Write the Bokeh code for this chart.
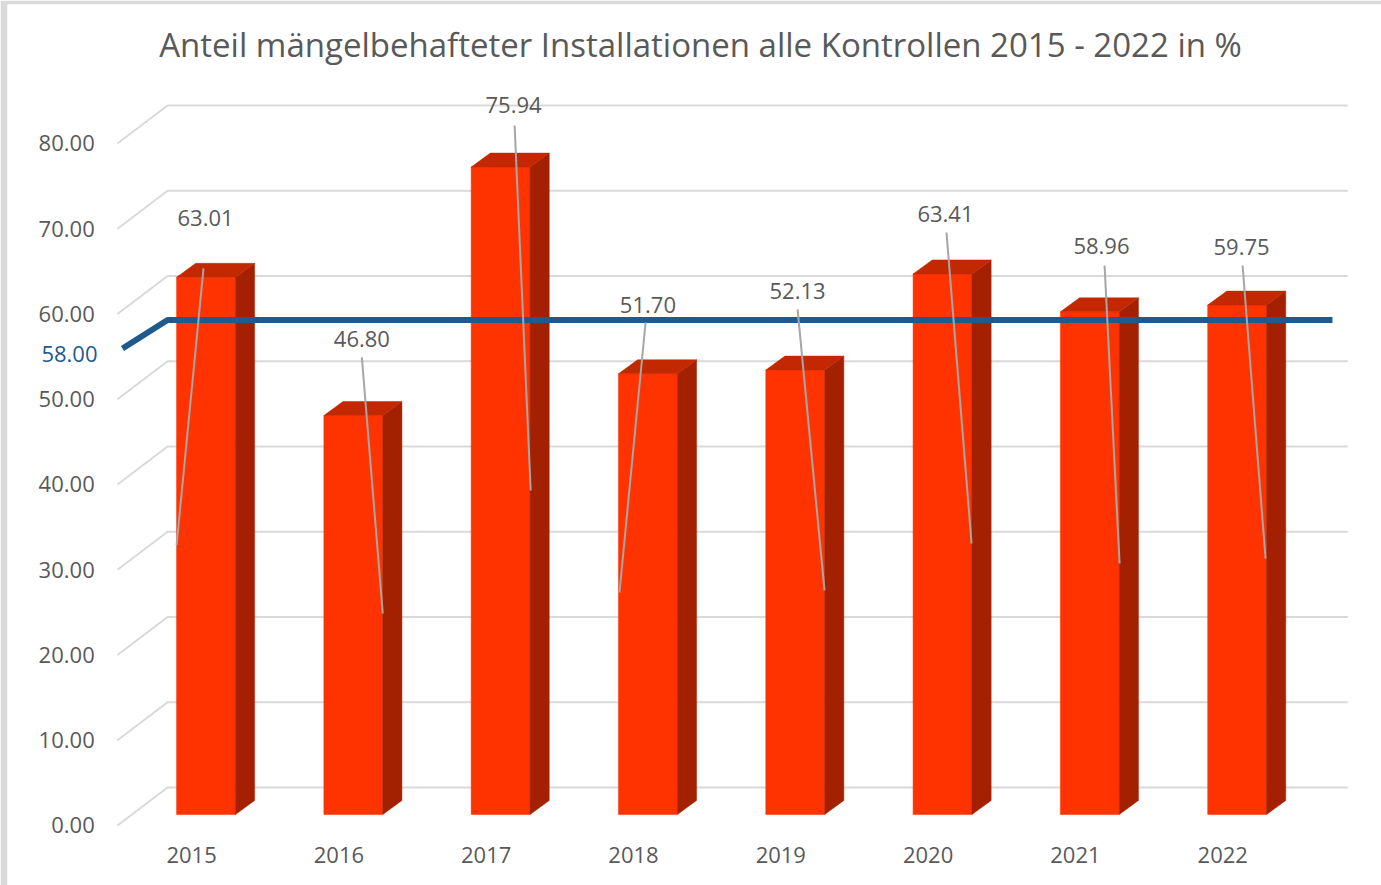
from bokeh.plotting import figure
from bokeh.models import Range1d
from bokeh.embed import file_html
from bokeh.resources import INLINE

# ---------------- data ----------------
years = ["2015", "2016", "2017", "2018", "2019", "2020", "2021", "2022"]
shares = [63.01, 46.80, 75.94, 51.70, 52.13, 63.41, 58.96, 59.75]
target = 58.00
y_ticks = [0, 10, 20, 30, 40, 50, 60, 70, 80]
title_text = "Anteil mängelbehafteter Installationen alle Kontrollen 2015 - 2022 in %"

# ---------------- placement (axis units) ----------------
label_x = [-0.003, 1.058, 2.088, 3.000, 4.016, 5.020, 6.079, 7.030]
label_y = [69.91, 55.72, 83.17, 59.71, 61.35, 70.38, 66.63, 66.51]
leader_x0 = [-0.017, 1.058, 2.095, 2.984, 4.016, 5.027, 6.100, 7.037]
leader_y0 = [64.05, 53.61, 80.82, 57.71, 59.24, 68.27, 64.40, 64.40]
leader_x1 = [-0.200, 1.200, 2.204, 2.807, 4.199, 5.197, 6.202, 7.193]
leader_y1 = [31.55, 23.58, 38.00, 26.04, 26.28, 31.79, 29.44, 30.03]

HALF = 0.2        # half width of bar front face
DX = 0.130        # 3D depth, x
DY = 1.64         # 3D depth, y
BACK = 3.17       # back wall offset
FRONT = -1.29     # label plane offset
GRID_X0, GRID_X1, GRID_X2 = -0.601, -0.261, 7.751
YLAB_X = -0.7556  # right edge of value-axis labels
XLAB_DX = -0.098  # category label shift
XLAB_Y = -4.81

FONT = "Open Sans"
GRAY = "#595959"
BLUE = "#1f5a8e"

p = figure(width=1381, height=885,
           x_range=Range1d(-1.3476, 7.980), y_range=Range1d(-8.33, 95.01),
           output_backend="svg", toolbar_location=None,
           x_axis_location=None, y_axis_location=None,
           min_border_left=7, min_border_top=4, min_border_right=0, min_border_bottom=0,
           outline_line_color=None,
           background_fill_color="white", border_fill_color="#dadada")
p.xgrid.visible = False
p.ygrid.visible = False

# value-axis labels (front plane)
p.text([YLAB_X] * len(y_ticks), [t + FRONT for t in y_ticks],
       text=[f"{t:.2f}" for t in y_ticks], text_align="right", text_baseline="middle",
       text_font={"value": FONT}, text_font_size="22px", text_color=GRAY)

# category labels
xs = list(range(len(shares)))
p.text([x + XLAB_DX for x in xs], [XLAB_Y] * len(xs), text=years,
       text_align="center", text_baseline="middle",
       text_font={"value": FONT}, text_font_size="22px", text_color=GRAY)

# gridlines with perspective
gx, gy = [], []
for t in y_ticks:
    gx.append([GRID_X0, GRID_X1, GRID_X2])
    gy.append([t + FRONT, t + BACK, t + BACK])
p.multi_line(gx, gy, line_color="#d9d9d9", line_width=2)

# bars (3D look)
p.quad(left=[x - HALF for x in xs], right=[x + HALF for x in xs],
       bottom=0, top=shares, fill_color="#ff3300", line_color="#ff3300", line_width=0.5)
side_x, side_y, top_x, top_y = [], [], [], []
for x, v in zip(xs, shares):
    side_x.append([x + HALF, x + HALF + DX, x + HALF + DX, x + HALF])
    side_y.append([0, DY, v + DY, v])
    top_x.append([x - HALF, x + HALF, x + HALF + DX, x - HALF + DX])
    top_y.append([v, v, v + DY, v + DY])
p.patches(side_x, side_y, fill_color="#a32000", line_color="#a32000", line_width=0.5)
p.patches(top_x, top_y, fill_color="#c42800", line_color="#c42800", line_width=0.5)

# target line
p.line([-0.567, GRID_X1, 7.647], [target - 3.34, target, target],
       line_color=BLUE, line_width=6)
p.text([-0.7366], [target - 4.04], text=[f"{target:.2f}"],
       text_align="right", text_baseline="middle",
       text_font={"value": FONT}, text_font_size="22px", text_color=BLUE)

# leader lines and data labels
p.segment(leader_x0, leader_y0, leader_x1, leader_y1, line_color="#a6a6a6", line_width=2)
p.text(label_x, label_y, text=[f"{v:.2f}" for v in shares],
       text_align="center", text_baseline="middle",
       text_font={"value": FONT}, text_font_size="22px", text_color=GRAY)

# title
p.text([3.357], [90.3], text=[title_text],
       text_align="center", text_baseline="middle",
       text_font={"value": FONT}, text_font_size="33px", text_color=GRAY)

open("out.html", "w").write(file_html(p, INLINE))
